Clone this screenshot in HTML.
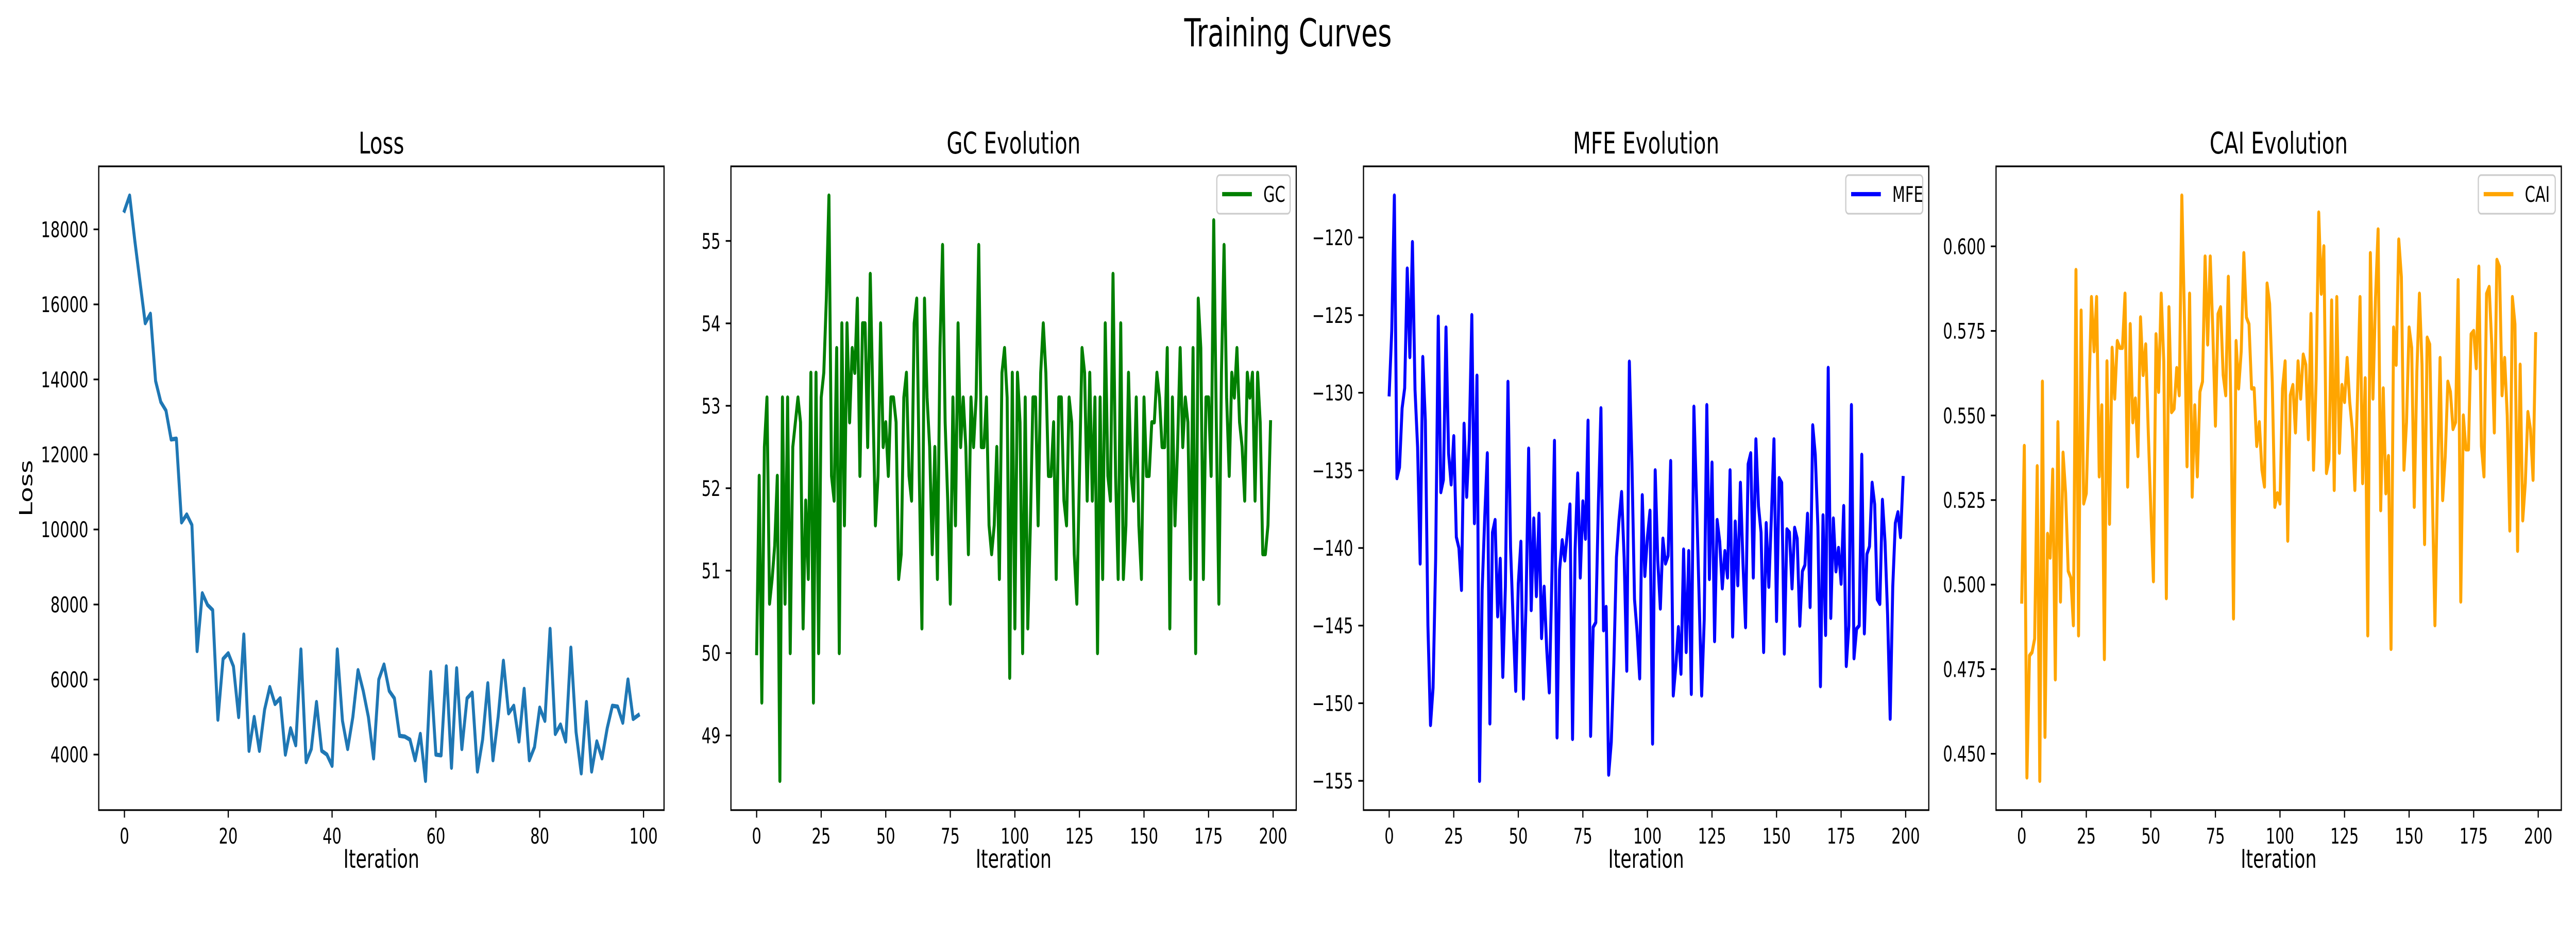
<!DOCTYPE html>
<html><head><meta charset="utf-8">
<meta name="viewport" content="width=7200, initial-scale=1">
<style>
html,body{margin:0;padding:0;background:#fff;overflow:hidden;width:100vw;height:100vh;}
svg{display:block;width:100vw;height:100vh;}
text{font-family:"DejaVu Sans","Liberation Sans",sans-serif;fill:#000;}
</style></head>
<body>
<svg id="fig" xmlns="http://www.w3.org/2000/svg" viewBox="0 0 7200 1800" preserveAspectRatio="none">
<rect width="7200" height="1800" fill="#fff"/>
<text x="3600" y="90" font-size="75" text-anchor="middle">Training Curves</text>
</svg>
<script>
const lossValues=[18500,18900,17700,16600,15500,15750,13960,13400,13170,12400,12420,10190,10400,10120,6760,8300,7990,7850,4930,6550,6700,6350,5000,7200,4100,5000,4100,5200,5800,5350,5500,4000,4700,4250,6800,3800,4150,5400,4100,4000,3700,6800,4900,4150,5000,6250,5700,5000,3900,6000,6400,5700,5500,4500,4480,4400,3850,4550,3300,6200,4000,3980,6350,3650,6300,4150,5500,5650,3550,4400,5900,3850,5000,6500,5100,5300,4350,5750,3850,4200,5250,4900,7350,4550,4800,4350,6850,4600,3500,5400,3550,4350,3900,4700,5300,5280,4850,6000,4950,5050];
const gcValues=[50.0,52.15,49.4,52.5,53.1,50.6,50.9,51.3,52.15,48.45,53.1,50.6,53.1,50.0,52.5,52.8,53.1,52.8,50.3,51.85,50.9,53.4,49.4,53.4,50.0,53.1,53.4,54.3,55.55,52.15,51.85,53.7,50.0,54.0,51.55,54.0,52.8,53.7,53.4,54.3,52.15,54.0,54.0,52.5,54.6,53.1,51.55,52.15,54.0,52.5,52.8,52.15,53.1,53.1,52.8,50.9,51.2,53.1,53.4,52.15,51.85,54.0,54.3,52.15,50.3,54.3,53.1,52.5,51.2,52.5,50.9,53.7,54.95,52.8,51.85,50.6,53.1,51.55,54.0,52.5,53.1,52.5,51.2,53.1,52.5,53.1,54.95,52.5,52.5,53.1,51.55,51.2,51.55,52.5,50.9,53.4,53.7,53.1,49.7,53.4,50.3,53.4,52.8,50.0,53.1,50.3,51.55,53.1,53.1,51.55,53.4,54.0,53.4,52.15,52.15,52.8,50.9,53.1,53.1,51.85,51.55,53.1,52.8,51.2,50.6,52.15,53.7,53.4,51.85,53.4,51.85,53.1,50.0,53.1,50.9,54.0,52.15,51.85,54.6,52.15,50.9,54.0,50.9,51.55,53.4,52.15,51.85,53.1,51.55,50.9,53.1,52.15,52.15,52.8,52.8,53.4,53.1,52.5,52.5,53.7,50.3,53.1,51.55,52.5,53.7,52.5,53.1,52.8,50.9,53.7,50.0,54.3,53.7,50.9,53.1,53.1,52.15,55.25,52.8,50.6,53.4,54.95,53.1,52.15,53.4,53.1,53.7,52.8,52.5,51.85,53.4,53.1,53.4,51.85,53.4,52.8,51.2,51.2,51.55,52.8];
const mfeValues=[-130.1,-126,-117.3,-135.5,-134.8,-131,-129.7,-122,-127.7,-120.3,-129.8,-133.5,-141,-127.7,-131.8,-145,-151.4,-149,-140.7,-125.1,-136.4,-135.6,-125.8,-133.9,-135.9,-132.8,-139.3,-140,-142.7,-132,-136.7,-133,-125,-138.4,-128.9,-155,-142.7,-138,-133.9,-151.3,-139,-138.2,-144.4,-140.7,-148.3,-142.5,-129.3,-140,-144.7,-149.2,-142.3,-139.6,-149.7,-143.5,-133.6,-144,-138.1,-143.1,-137.8,-145.8,-142.5,-146.5,-149.3,-142,-133.1,-152.2,-141.4,-139.5,-140.8,-139,-137.2,-152.3,-140.1,-135.2,-141.9,-137,-139.4,-131.8,-152.1,-145.1,-144.8,-137.2,-131,-145.3,-143.8,-154.6,-152.5,-147.4,-140.6,-138.2,-136.4,-140.7,-147.9,-128,-134.5,-143.3,-145.4,-148.4,-136.6,-141.8,-139.3,-137.6,-152.6,-135,-140.8,-143.9,-139.4,-141,-140.5,-134.4,-149.5,-147.6,-145.1,-148.1,-140.1,-146.7,-140.2,-149.4,-130.9,-136.7,-143.1,-149.5,-144.6,-130.8,-142,-134.5,-146,-138.2,-139.6,-142.6,-140.2,-141.9,-135,-145.7,-138.3,-142.4,-135.8,-141,-145.1,-134.6,-133.9,-141.9,-133,-137.3,-139,-146.7,-138.4,-142.5,-138,-133,-144.7,-135.5,-135.8,-146.8,-138.8,-139,-142.6,-138.7,-139.4,-145,-141.5,-141.1,-137.8,-143.8,-132.1,-134,-138.6,-148.9,-137.9,-145.6,-128.4,-144.5,-138.1,-141.5,-140,-142.3,-137.3,-147.6,-145,-130.8,-147.1,-145.2,-145,-134,-145.5,-140.4,-139.9,-135.8,-137.2,-143.3,-143.6,-136.9,-139.6,-144.3,-151,-142.5,-138.4,-137.7,-139.3,-135.5];
const caiValues=[0.495,0.541,0.443,0.479,0.480,0.484,0.535,0.442,0.560,0.455,0.515,0.508,0.534,0.472,0.548,0.495,0.539,0.527,0.504,0.502,0.488,0.593,0.485,0.581,0.524,0.527,0.555,0.585,0.569,0.585,0.532,0.553,0.478,0.566,0.518,0.570,0.555,0.572,0.570,0.570,0.586,0.529,0.577,0.548,0.555,0.538,0.579,0.562,0.571,0.545,0.522,0.501,0.574,0.557,0.586,0.566,0.496,0.582,0.551,0.552,0.564,0.556,0.615,0.579,0.535,0.586,0.526,0.553,0.532,0.557,0.560,0.597,0.571,0.597,0.575,0.547,0.580,0.582,0.562,0.556,0.591,0.552,0.490,0.572,0.558,0.569,0.598,0.579,0.577,0.558,0.558,0.541,0.548,0.534,0.529,0.589,0.583,0.560,0.523,0.527,0.524,0.558,0.566,0.513,0.556,0.559,0.545,0.566,0.555,0.568,0.565,0.543,0.580,0.534,0.561,0.610,0.586,0.600,0.533,0.537,0.584,0.528,0.585,0.539,0.559,0.554,0.567,0.554,0.546,0.528,0.555,0.585,0.530,0.561,0.485,0.598,0.555,0.585,0.605,0.522,0.558,0.527,0.538,0.481,0.576,0.565,0.602,0.591,0.534,0.548,0.576,0.570,0.523,0.563,0.586,0.565,0.512,0.573,0.571,0.527,0.488,0.530,0.567,0.525,0.538,0.560,0.557,0.546,0.548,0.590,0.495,0.550,0.540,0.540,0.574,0.575,0.564,0.594,0.541,0.532,0.586,0.588,0.571,0.545,0.596,0.594,0.556,0.567,0.550,0.516,0.585,0.577,0.510,0.565,0.519,0.530,0.551,0.546,0.531,0.574];
const lossYTicks=[4000,6000,8000,10000,12000,14000,16000,18000];
const lossXTicks=[0,20,40,60,80,100];
const gcYTicks=[49,50,51,52,53,54,55];
const mfeYTicks=[-155,-150,-145,-140,-135,-130,-125,-120];
const caiYTicks=[0.450,0.475,0.500,0.525,0.550,0.575,0.600];
const iterXTicks=[0,25,50,75,100,125,150,175,200];

const svg=document.getElementById('fig');
const NS='http://www.w3.org/2000/svg';
function mk(tag,attrs,parent){const e=document.createElementNS(NS,tag);for(const k in attrs)e.setAttribute(k,attrs[k]);(parent||svg).appendChild(e);return e;}

function panel(opt){
  const L=opt.left,R=opt.left+1580,T=323,B=1573;
  const n=opt.values.length;
  const xmin=-(n-1)*0.05,xmax=(n-1)*1.05;
  let vmin=Math.min(...opt.values),vmax=Math.max(...opt.values);
  const pad=(vmax-vmin)*0.05;const ymin=vmin-pad,ymax=vmax+pad;
  const sx=v=>L+(v-xmin)/(xmax-xmin)*(R-L);
  const sy=v=>B-(v-ymin)/(ymax-ymin)*(B-T);
  const g=mk('g',{});
  
  
  const t=mk('text',{x:(L+R)/2,y:T-25,'font-size':58,'text-anchor':'middle'},g);
  t.textContent=opt.title;
  
  
  const pts=opt.values.map((v,i)=>sx(i).toFixed(1)+','+sy(v).toFixed(1)).join(' ');
  const line=mk('polyline',{points:pts,fill:'none',stroke:opt.color,'stroke-width':8.3,'stroke-linejoin':'round','stroke-linecap':'square'},g);
  
  
  const frame=mk('rect',{x:L,y:T,width:R-L,height:B-T,fill:'none',stroke:'#000','stroke-width':3.3},g);
  
  
  opt.xticks.forEach(v=>{
    const x=sx(v);
    mk('line',{x1:x,x2:x,y1:B,y2:B+14.6,stroke:'#000','stroke-width':3.3},g);
    const tl=mk('text',{x:x,y:B+65,'font-size':41.7,'text-anchor':'middle'},g);
    tl.textContent=v;
    
    
  });
  opt.yticks.forEach(v=>{
    const y=sy(v);
    mk('line',{x1:L-14.6,x2:L,y1:y,y2:y,stroke:'#000','stroke-width':3.3},g);
    const tl=mk('text',{x:L-29,y:y+15,'font-size':41.7,'text-anchor':'end'},g);
    tl.textContent=opt.fmt?opt.fmt(v):v;
    
    
  });
  const xl=mk('text',{x:(L+R)/2,y:1685,'font-size':50,'text-anchor':'middle'},g);
  xl.textContent='Iteration';
  
  
  if(opt.ylabel){
    const yl=mk('text',{x:0,y:0,'font-size':50,'text-anchor':'middle',transform:'translate(90,'+((T+B)/2)+') rotate(-90)'},g);
    yl.textContent=opt.ylabel;
    
    
  }
  if(opt.legend){
    const lg=mk('g',{},g);
    
    
    const w=opt.legend.length>2?215:205;
    const bx=R-17-w,by=340;
    mk('rect',{x:bx,y:by,width:w,height:75,rx:8,fill:'#fff','fill-opacity':0.8,stroke:'#ccc','stroke-width':3.3},lg);
    mk('line',{x1:bx+15,x2:bx+98,y1:by+37,y2:by+37,stroke:opt.color,'stroke-width':8.3},lg);
    const lt=mk('text',{x:bx+130,y:by+52,'font-size':41.7},lg);
    lt.textContent=opt.legend;
    
    
  }
}
panel({name:'loss',left:276,values:lossValues,color:'#1f77b4',title:'Loss',xticks:lossXTicks,yticks:lossYTicks,ylabel:'Loss'});
panel({name:'gc',left:2043,values:gcValues,color:'#008000',title:'GC Evolution',xticks:iterXTicks,yticks:gcYTicks,legend:'GC'});
panel({name:'mfe',left:3811,values:mfeValues,color:'#0000ff',title:'MFE Evolution',xticks:iterXTicks,yticks:mfeYTicks,legend:'MFE',fmt:v=>'\u2212'+Math.abs(v)});
panel({name:'cai',left:5579,values:caiValues,color:'#ffa500',title:'CAI Evolution',xticks:iterXTicks,yticks:caiYTicks,legend:'CAI',fmt:v=>v.toFixed(3)});
</script>
</body></html>
